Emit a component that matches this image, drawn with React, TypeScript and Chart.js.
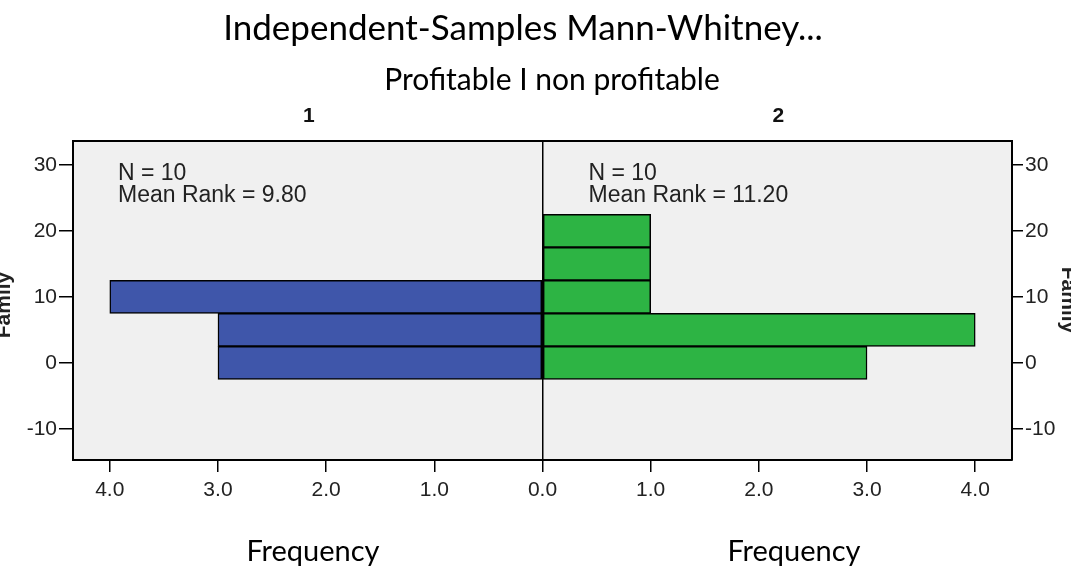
import { useEffect, useRef } from "react";
import { Chart, registerables } from "chart.js";

Chart.register(...registerables);

// ---- data ----
const binCenters = [0, 5, 10, 15, 20];
const group1Freq = [3, 3, 4, 0, 0];
const group2Freq = [3, 4, 1, 1, 1];
const freqTicks = [-4, -3, -2, -1, 0, 1, 2, 3, 4];
const rankTicks = [-10, 0, 10, 20, 30];
const groupLabels = ["1", "2"];
const group1Stats = ["N = 10", "Mean Rank = 9.80"];
const group2Stats = ["N = 10", "Mean Rank = 11.20"];
const titleText = "Independent-Samples Mann-Whitney...";
const subtitleText = "Profitable I non profitable";
const xTitle = "Frequency";
const yTitle = "Family";

const W = 1071;
const H = 569;
const BLUE = "#3f56aa";
const GREEN = "#2db444";
const TICK_FONT = { family: "'Liberation Sans', Arial, sans-serif", size: 21 };

export default function App() {
  const ref = useRef<HTMLCanvasElement | null>(null);

  useEffect(() => {
    const canvas = ref.current;
    if (!canvas) return;

    const left = binCenters
      .map((y, i) => ({ y, x: -group1Freq[i] }))
      .filter((p) => p.x !== 0);
    const right = binCenters
      .map((y, i) => ({ y, x: group2Freq[i] }))
      .filter((p) => p.x !== 0);

    const decor = {
      id: "decor",
      beforeDraw(chart: any) {
        const { ctx, chartArea } = chart;
        ctx.save();
        ctx.fillStyle = "#ffffff";
        ctx.fillRect(0, 0, chart.width, chart.height);
        ctx.fillStyle = "#f0f0f0";
        ctx.fillRect(chartArea.left, chartArea.top, chartArea.right - chartArea.left, chartArea.bottom - chartArea.top);
        ctx.restore();
      },
      afterDraw(chart: any) {
        const { ctx, chartArea } = chart;
        const xs = chart.scales.x;
        const x0 = xs.getPixelForValue(0);
        ctx.save();
        ctx.fillStyle = "#000";
        ctx.textBaseline = "middle";
        ctx.textAlign = "center";
        ctx.font = "35px Lato";
        ctx.fillText(titleText, 523, 29);
        ctx.font = "30px Lato";
        ctx.fillText(subtitleText, 552, 80);
        ctx.font = "bold 21px 'Liberation Sans'";
        ctx.fillStyle = "#111";
        ctx.fillText(groupLabels[0], (chartArea.left + x0) / 2 + 1, 116);
        ctx.fillText(groupLabels[1], (chartArea.right + x0) / 2 + 1, 116);
        ctx.font = "29px Lato";
        ctx.fillStyle = "#000";
        ctx.fillText(xTitle, 313, 552);
        ctx.fillText(xTitle, 794, 552);

        ctx.textAlign = "left";
        ctx.font = "23px 'Liberation Sans'";
        ctx.fillStyle = "#222";
        group1Stats.forEach((t, i) => ctx.fillText(t, chartArea.left + 45, 174 + i * 22));
        group2Stats.forEach((t, i) => ctx.fillText(t, x0 + 46, 174 + i * 22));

        ctx.font = "bold 21px 'Liberation Sans'";
        ctx.textAlign = "center";
        ctx.save();
        ctx.translate(4, 305);
        ctx.rotate(-Math.PI / 2);
        ctx.fillText(yTitle, 0, 0);
        ctx.restore();
        ctx.save();
        ctx.translate(1068, 300);
        ctx.rotate(Math.PI / 2);
        ctx.fillText(yTitle, 0, 0);
        ctx.restore();
        ctx.restore();
      },
    };

    const yAxis = (position: "left" | "right", width: number, tickLength: number, pad: number) => ({
      type: "linear" as const,
      position,
      min: -14.7,
      max: 33.6,
      offset: false,
      stacked: true,
      afterBuildTicks: (s: any) => {
        s.ticks = rankTicks.map((v) => ({ value: v }));
      },
      afterFit: (s: any) => {
        s.width = width;
      },
      ticks: { font: TICK_FONT, color: "#222", padding: pad, callback: (v: any) => String(v) },
      grid: { offset: false, drawOnChartArea: false, tickLength, tickColor: "#000", lineWidth: 1.5 },
      border: { display: true, color: "#000", width: 2 },
    });

    const chart = new Chart(canvas, {
      type: "bar",
      data: {
        datasets: [
          {
            label: groupLabels[0],
            data: left,
            backgroundColor: BLUE,
            borderColor: "#000",
            borderWidth: 1.5,
            borderSkipped: false,
            barPercentage: 1,
            categoryPercentage: 1,
          },
          {
            label: groupLabels[1],
            data: right,
            backgroundColor: GREEN,
            borderColor: "#000",
            borderWidth: 1.5,
            borderSkipped: false,
            barPercentage: 1,
            categoryPercentage: 1,
          },
        ],
      },
      options: {
        indexAxis: "y",
        responsive: false,
        animation: false,
        layout: { padding: { top: 141, left: 0, right: 0, bottom: 0 } },
        plugins: { legend: { display: false }, tooltip: { enabled: false }, title: { display: false } },
        scales: {
          x: {
            type: "linear",
            position: "bottom",
            min: -4.34,
            max: 4.34,
            stacked: true,
            afterBuildTicks: (s: any) => {
              s.ticks = freqTicks.map((v) => ({ value: v }));
            },
            afterFit: (s: any) => {
              s.height = H - 460;
            },
            ticks: {
              font: TICK_FONT,
              color: "#222",
              padding: 6,
              maxRotation: 0,
              callback: (v: any) => Math.abs(Number(v)).toFixed(1),
            },
            grid: {
              drawOnChartArea: true,
              color: (c: any) => (c.tick && c.tick.value === 0 ? "#000" : "rgba(0,0,0,0)"),
              tickColor: "#000",
              tickLength: 12,
              lineWidth: 1.5,
            },
            border: { display: true, color: "#000", width: 2 },
          },
          xTop: {
            type: "linear",
            position: "top",
            min: -4.34,
            max: 4.34,
            afterFit: (s: any) => {
              s.height = 0;
            },
            ticks: { display: false },
            grid: { display: false, drawTicks: false },
            border: { display: true, color: "#000", width: 2 },
          },
          y: yAxis("left", 73, 14, 2),
          yRight: yAxis("right", W - 1012, 11, 2),
        },
      },
      plugins: [decor],
    } as any);

    return () => chart.destroy();
  }, []);

  return (
    <div style={{ position: "fixed", left: 0, top: 0, width: W, height: H, background: "#fff" }}>
      <canvas ref={ref} width={W} height={H} style={{ width: W, height: H, display: "block" }} />
    </div>
  );
}
